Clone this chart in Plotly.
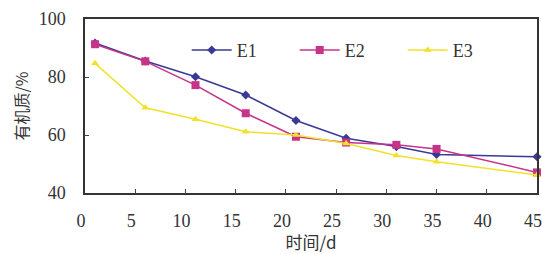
import plotly.graph_objects as go

days = [1, 6, 11, 16, 21, 26, 31, 35, 45]
e1 = [91.7, 85.5, 80.1, 73.8, 65.0, 58.9, 56.0, 53.3, 52.5]
e2 = [91.3, 85.4, 77.2, 67.5, 59.4, 57.4, 56.6, 55.2, 47.1]
e3 = [84.7, 69.4, 65.4, 61.1, 60.0, 57.1, 52.9, 50.8, 46.2]
x_ticks = [0, 5, 10, 15, 20, 25, 30, 35, 40, 45]
y_ticks = [40, 60, 80, 100]

font_main = "Liberation Serif"

fig = go.Figure()
fig.add_trace(go.Scatter(x=days, y=e1, name="E1", mode="lines+markers", cliponaxis=False,
                         line=dict(color="#3a3a96", width=1.5),
                         marker=dict(symbol="diamond", size=7, color="#3a3a96")))
fig.add_trace(go.Scatter(x=days, y=e2, name="E2", mode="lines+markers", cliponaxis=False,
                         line=dict(color="#c8338a", width=1.5),
                         marker=dict(symbol="square", size=8, color="#c8338a")))
fig.add_trace(go.Scatter(x=days, y=e3, name="E3", mode="lines+markers", cliponaxis=False,
                         line=dict(color="#f0e22a", width=1.5),
                         marker=dict(symbol="triangle-up", size=7, color="#f0e22a")))

fig.update_layout(
    width=542, height=254,
    margin=dict(l=85, r=5, t=19, b=61, autoexpand=False),
    paper_bgcolor="white", plot_bgcolor="white",
    font=dict(family=font_main, size=16, color="#333333"),
    showlegend=True,
    legend=dict(orientation="h", x=0.225, y=0.82, xanchor="left", yanchor="middle",
                bgcolor="rgba(0,0,0,0)", font=dict(size=18, family=font_main),
                itemwidth=40, entrywidthmode="pixels", entrywidth=53),
    xaxis=dict(range=[0, 45], tickvals=x_ticks, ticks="inside", ticklen=4,
               showline=True, linecolor="#333333", linewidth=1.5, mirror=True,
               showgrid=False, zeroline=False, automargin=False, ticklabelstandoff=11,
               ticklabeloverflow="allow", ticklabelshift=-4,
               title=dict(text="时间/d", font=dict(size=17, family="Noto Sans CJK SC"), standoff=10),
               tickfont=dict(size=18)),
    yaxis=dict(range=[40, 100], tickvals=y_ticks, ticks="inside", ticklen=4,
               showline=True, linecolor="#333333", linewidth=1.5, mirror=True,
               showgrid=False, zeroline=False, automargin=False, ticklabelstandoff=14,
               title=dict(text="有机质/%", font=dict(size=16, family="Noto Sans CJK SC"), standoff=6),
               tickfont=dict(size=18)),
)

fig.write_html("out.html", config={"displayModeBar": False},
               post_script="document.body.style.margin='0';document.body.style.overflow='hidden';")
